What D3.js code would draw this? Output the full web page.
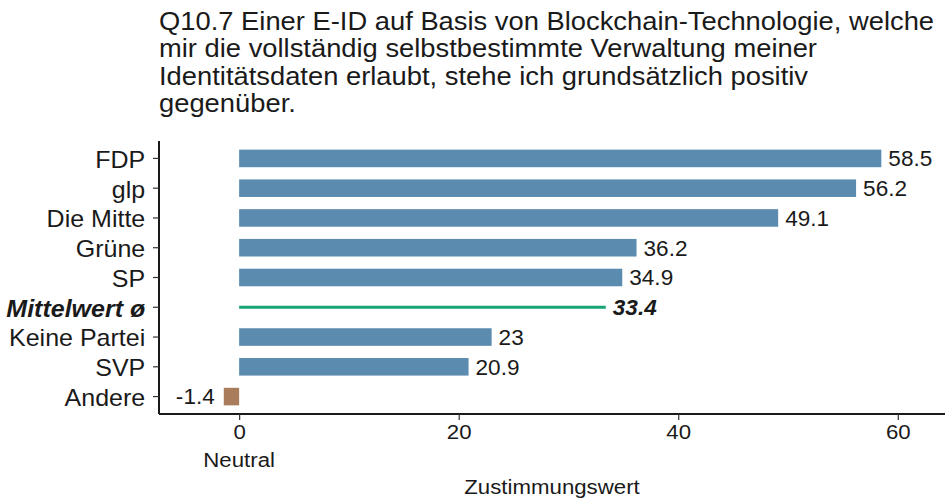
<!DOCTYPE html>
<html>
<head>
<meta charset="utf-8">
<script src="https://cdn.jsdelivr.net/npm/d3@7"></script>
<style>
  body { margin: 0; background: #fff; }
  text { font-family: "Liberation Sans", Arial, sans-serif; fill: #1a1a1a; }
</style>
</head>
<body>
<div id="chart"></div>
<script>
// Data
const categories = ["FDP", "glp", "Die Mitte", "Grüne", "SP", "Mittelwert ø", "Keine Partei", "SVP", "Andere"];
const values = [58.5, 56.2, 49.1, 36.2, 34.9, 33.4, 23, 20.9, -1.4];
const valueLabels = ["58.5", "56.2", "49.1", "36.2", "34.9", "33.4", "23", "20.9", "-1.4"];
const xTicks = [0, 20, 40, 60];
const titleLines = [
    "Q10.7 Einer E-ID auf Basis von Blockchain-Technologie, welche",
    "mir die vollständig selbstbestimmte Verwaltung meiner",
    "Identitätsdaten erlaubt, stehe ich grundsätzlich positiv",
    "gegenüber."
];
const meanLabel = "Mittelwert ø";

const width = 948, height = 499;
const margin = { top: 141, left: 159, right: 3, bottom: 85 };
// the source picture's lettering is a touch wider than Arial
const stretch = 1.06;

const svg = d3.select('#chart').append('svg')
    .attr('width', width)
    .attr('height', height);

// Title
svg.append('g').selectAll('text')
    .data(titleLines)
    .join('text')
    .attr('transform', (d, i) => `translate(159,${29.5 + i * 27.6}) scale(${stretch},1)`)
    .attr('font-size', '25.8px')
    .text(d => d);

const x = d3.scaleLinear()
    .domain([-7.3, 64.3])
    .range([margin.left, width - margin.right]);

const y = d3.scaleBand()
    .domain(categories)
    .range([margin.top, height - margin.bottom])
    .paddingInner(0.41)
    .paddingOuter(0.29);

const rows = categories.map((c, i) => ({ cat: c, v: values[i], label: valueLabels[i] }));

// Bars
svg.append('g').selectAll('rect')
    .data(rows.filter(d => d.cat !== meanLabel))
    .join('rect')
    .attr('x', d => x(Math.min(0, d.v)))
    .attr('y', d => y(d.cat))
    .attr('width', d => Math.abs(x(d.v) - x(0)))
    .attr('height', y.bandwidth())
    .attr('fill', d => d.v < 0 ? '#a97c5b' : '#5b8cb0');

// Mean line
const mean = rows.find(d => d.cat === meanLabel);
svg.append('line')
    .attr('x1', x(0))
    .attr('x2', x(mean.v))
    .attr('y1', y(mean.cat) + y.bandwidth() / 2)
    .attr('y2', y(mean.cat) + y.bandwidth() / 2)
    .attr('stroke', '#17a577')
    .attr('stroke-width', 3);

// Value labels
svg.append('g').selectAll('text')
    .data(rows)
    .join('text')
    .attr('transform', d => {
        const px = d.v < 0 ? x(d.v) - 9 : x(d.v) + 7;
        const py = y(d.cat) + y.bandwidth() / 2;
        return `translate(${px},${py}) scale(${stretch},1)`;
    })
    .attr('dy', '0.37em')
    .attr('text-anchor', d => d.v < 0 ? 'end' : 'start')
    .attr('font-size', '21.3px')
    .attr('font-weight', d => d.cat === meanLabel ? 'bold' : 'normal')
    .attr('font-style', d => d.cat === meanLabel ? 'italic' : 'normal')
    .text(d => d.label);

// Y axis
const yAxis = svg.append('g')
    .attr('transform', `translate(${margin.left},0)`)
    .call(d3.axisLeft(y).tickSize(6).tickPadding(7));
yAxis.select('.domain').attr('stroke', '#1a1a1a').attr('stroke-width', 2)
    .attr('d', `M0,${margin.top}V${height - margin.bottom}`);
yAxis.selectAll('.tick line').attr('stroke', '#333').attr('stroke-width', 1.2);
yAxis.selectAll('.tick text')
    .attr('transform', `scale(${stretch},1)`)
    .attr('dy', '0.4em')
    .attr('font-size', '23.6px')
    .attr('fill', '#1a1a1a')
    .attr('font-weight', d => d === meanLabel ? 'bold' : 'normal')
    .attr('font-style', d => d === meanLabel ? 'italic' : 'normal');

// X axis
const xAxis = svg.append('g')
    .attr('transform', `translate(0,${height - margin.bottom})`)
    .call(d3.axisBottom(x).tickValues(xTicks).tickSize(6).tickPadding(4));
xAxis.select('.domain').attr('stroke', '#1a1a1a').attr('stroke-width', 2)
    .attr('d', `M${margin.left},0H${width - margin.right}`);
xAxis.selectAll('.tick line').attr('stroke', '#333').attr('stroke-width', 1.2);
xAxis.selectAll('.tick text')
    .attr('transform', `scale(${stretch},1)`)
    .attr('font-size', '21px')
    .attr('fill', '#1a1a1a');

svg.append('text')
    .attr('transform', `translate(${x(0)},466.5) scale(${stretch},1)`)
    .attr('text-anchor', 'middle')
    .attr('font-size', '21px')
    .text('Neutral');

svg.append('text')
    .attr('transform', `translate(${(margin.left + width - margin.right) / 2},494) scale(${stretch},1)`)
    .attr('text-anchor', 'middle')
    .attr('font-size', '21px')
    .text('Zustimmungswert');
</script>
</body>
</html>
